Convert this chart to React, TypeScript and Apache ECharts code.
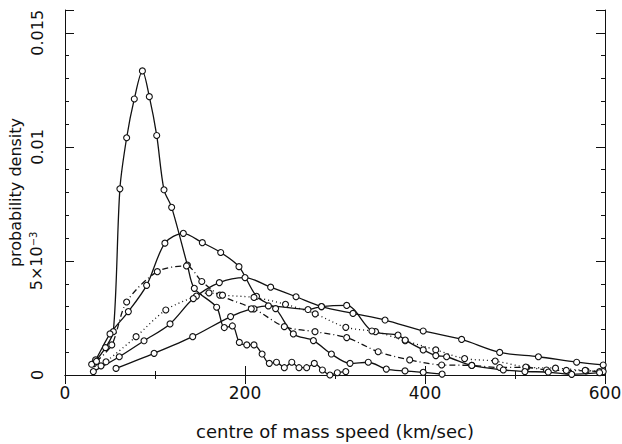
import React, { useEffect, useRef } from "react";
import * as echarts from "echarts";

// centre of mass speed (km/sec) , probability density (x 1e-3)
const seriesA_x = [32, 45, 53.7, 61, 68.5, 77, 86, 93.7, 101.9, 110, 118.5, 136, 143.7, 168.5, 177, 186, 193.7, 202, 210, 219, 227, 235, 243.7, 252, 260, 268.5, 277, 286, 294.4, 302.6, 312];
const seriesA_y = [0.5, 1.2, 1.9, 8.16, 10.4, 12.1, 13.33, 12.2, 10.5, 8.12, 7.35, 4.82, 3.8, 2.97, 2.08, 2.15, 1.43, 1.32, 1.32, 0.92, 0.51, 0.56, 0.32, 0.56, 0.32, 0.32, 0.51, 0.22, 0.0, 0.1, 0.15];

const seriesB_x = [29.6, 34, 50, 70.4, 90.7, 111, 131.5, 152.6, 173, 193.3, 212.8, 234, 253.7, 276, 296, 316.7, 337, 357, 377.8, 398, 419];
const seriesB_y = [0.47, 0.66, 1.8, 2.78, 3.93, 5.78, 6.21, 5.8, 5.37, 4.75, 3.45, 2.91, 1.8, 1.51, 0.92, 0.51, 0.56, 0.26, 0.18, 0.12, 0.04];

const seriesC_x = [35, 52, 68.5, 102.6, 135, 152, 172, 210, 243.7, 277.8, 313, 348, 383, 418.5, 452, 483, 513, 535, 557, 579, 594];
const seriesC_y = [0.6, 1.32, 3.2, 4.53, 4.78, 4.1, 3.5, 2.9, 2.12, 1.9, 1.64, 1.02, 0.66, 0.44, 0.42, 0.33, 0.33, 0.22, 0.2, 0.18, 0.15];

const seriesD_x = [40, 45.6, 79, 112, 146, 160, 175, 210, 245, 278, 312, 345, 378, 412, 444, 478, 512, 545, 578, 598];
const seriesD_y = [0.4, 0.58, 1.68, 2.85, 3.46, 3.6, 3.5, 3.4, 3.1, 2.68, 2.09, 1.9, 1.5, 1.1, 0.72, 0.61, 0.35, 0.3, 0.2, 0.15];

const seriesE_x = [31.5, 60.3, 87.8, 116.7, 142.6, 171.5, 200, 228.5, 256.7, 285, 320, 355.6, 398, 440.7, 483, 526, 568.5, 598];
const seriesE_y = [0.15, 0.8, 1.5, 2.24, 3.35, 4.05, 4.27, 3.85, 3.43, 3.0, 2.7, 2.41, 1.93, 1.56, 0.99, 0.8, 0.56, 0.44];

const seriesF_x = [56.7, 99, 141.9, 184, 207, 226, 270, 285, 313, 341, 370, 378, 398, 412, 424, 452, 487, 511, 537, 563, 594];
const seriesF_y = [0.29, 0.95, 1.68, 2.56, 2.9, 3.03, 2.87, 3.0, 3.05, 1.93, 1.75, 1.53, 1.1, 0.85, 0.8, 0.42, 0.22, 0.15, 0.13, 0.03, 0.1];

const xTickLabels = ["0", "200", "400", "600"];
const yLabelValues = [0, 0.005, 0.01, 0.015];
const yLabelTexts = ["{b|0}", "{b|5×10}{s|−3}", "{b|0.01}", "{b|0.015}"];

const FONT = "DejaVu Sans";
const INK = "#111";

function pairs(xs: number[], ys: number[]) {
  return xs.map((x, i) => [x, ys[i] / 1000]);
}

export default function App() {
  const ref = useRef<HTMLDivElement>(null);
  useEffect(() => {
    if (!ref.current) return;
    const chart = echarts.init(ref.current, null, { renderer: "svg" });
    const axisLine = { show: true, lineStyle: { color: INK, width: 1 } };
    const mkSeries = (xs: number[], ys: number[], type: string | number[]) => ({
      type: "line",
      data: pairs(xs, ys),
      smooth: 0.3,
      symbol: "circle",
      symbolSize: 6,
      showSymbol: true,
      itemStyle: { color: "#fff", borderColor: INK, borderWidth: 1.1 },
      lineStyle: { color: INK, width: 1.3, type },
      z: 3,
    });
    const yBase = {
      type: "value",
      min: 0,
      max: 0.016,
      splitLine: { show: false },
    };
    chart.setOption({
      animation: false,
      grid: { left: 65, right: 17, top: 10, bottom: 69, containLabel: false, outerBoundsMode: "none" },
      xAxis: [
        {
          type: "value",
          min: 0,
          max: 600,
          interval: 200,
          position: "bottom",
          axisLine,
          axisTick: { show: true, inside: true, length: 9, lineStyle: { color: INK } },
          minorTick: { show: true, splitNumber: 2, length: 4, lineStyle: { color: INK } },
          splitLine: { show: false },
          minorSplitLine: { show: false },
          axisLabel: {
            show: true,
            margin: 9,
            fontFamily: FONT,
            fontSize: 17,
            color: INK,
            formatter: (v: number) => {
              const i = [0, 200, 400, 600].indexOf(Math.round(v));
              return i >= 0 ? xTickLabels[i] : "";
            },
          },
          name: "centre of mass speed (km/sec)",
          nameLocation: "middle",
          nameGap: 47,
          nameMoveOverlap: false,
          nameTextStyle: { fontFamily: FONT, fontSize: 18, color: INK },
        },
        {
          type: "value",
          min: 0,
          max: 600,
          interval: 200,
          position: "top",
          axisLine,
          axisTick: { show: true, inside: true, length: 9, lineStyle: { color: INK } },
          minorTick: { show: true, splitNumber: 2, length: 4, lineStyle: { color: INK } },
          splitLine: { show: false },
          axisLabel: { show: false },
        },
      ],
      yAxis: [
        {
          ...yBase,
          interval: 0.001,
          position: "left",
          axisLine,
          axisTick: { show: true, inside: true, length: 4, lineStyle: { color: INK } },
          axisLabel: {
            show: true,
            rotate: 90,
            margin: 20,
            color: INK,
            showMaxLabel: false,
            formatter: (v: number) => {
              const k = Math.round(v * 1e6);
              for (let i = 0; i < yLabelValues.length; i++) {
                if (Math.round(yLabelValues[i] * 1e6) === k) return yLabelTexts[i];
              }
              return "";
            },
            rich: {
              b: { fontFamily: FONT, fontSize: 16, color: INK },
              s: { fontFamily: FONT, fontSize: 10, color: INK, padding: [0, 0, 7, 0] },
            },
          },
          name: "probability density",
          nameLocation: "middle",
          nameRotate: 90,
          nameGap: 42,
          nameMoveOverlap: false,
          nameTextStyle: { fontFamily: FONT, fontSize: 16, color: INK },
        },
        {
          ...yBase,
          interval: 0.005,
          position: "left",
          axisLine: { show: false },
          axisTick: { show: true, inside: true, length: 9, lineStyle: { color: INK } },
          axisLabel: { show: false },
        },
        {
          ...yBase,
          interval: 0.001,
          position: "right",
          axisLine,
          axisTick: { show: true, inside: true, length: 4, lineStyle: { color: INK } },
          axisLabel: { show: false },
        },
        {
          ...yBase,
          interval: 0.005,
          position: "right",
          axisLine: { show: false },
          axisTick: { show: true, inside: true, length: 9, lineStyle: { color: INK } },
          axisLabel: { show: false },
        },
      ],
      series: [
        mkSeries(seriesA_x, seriesA_y, "solid"),
        mkSeries(seriesB_x, seriesB_y, "solid"),
        mkSeries(seriesC_x, seriesC_y, [6, 3, 1, 3]),
        mkSeries(seriesD_x, seriesD_y, [1, 3]),
        mkSeries(seriesE_x, seriesE_y, "solid"),
        mkSeries(seriesF_x, seriesF_y, "solid"),
      ],
    });
    return () => chart.dispose();
  }, []);
  return (
    <div
      ref={ref}
      style={{ position: "fixed", left: 0, top: 0, width: 622, height: 444, background: "#fff" }}
    />
  );
}
